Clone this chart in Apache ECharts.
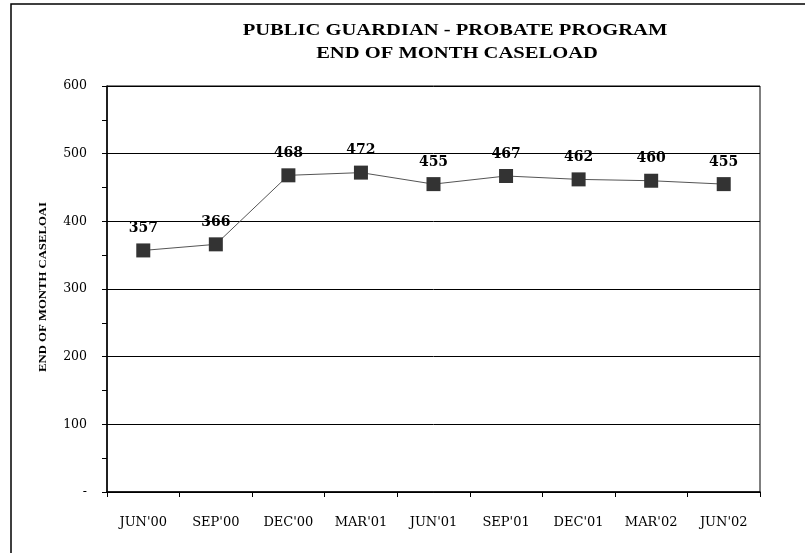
<!DOCTYPE html>
<html>
<head>
<meta charset="utf-8">
<script src="https://cdn.jsdelivr.net/npm/echarts@6/dist/echarts.min.js"></script>
<style>
  html, body { margin: 0; padding: 0; background: #fff; }
  #chart { width: 805px; height: 553px; }
</style>
</head>
<body>
<div id="chart"></div>
<script>
// Quarter-end labels and caseload counts
const quarters = ["JUN'00", "SEP'00", "DEC'00", "MAR'01", "JUN'01", "SEP'01", "DEC'01", "MAR'02", "JUN'02"];
const caseload = [357, 366, 468, 472, 455, 467, 462, 460, 455];
const titleLines = ['PUBLIC GUARDIAN - PROBATE PROGRAM', 'END OF MONTH CASELOAD'];
const yAxisTitle = 'END OF MONTH CASELOAI';

const serif = '"Liberation Serif", "Times New Roman", serif';
const wideSerif = '"DejaVu Serif", serif';

// Wide, spaced-out heading text: Times-style glyphs stretched horizontally
function headingText(str, x, y, size, rotation) {
  return {
    type: 'text',
    x: x, y: y,
    rotation: rotation || 0,
    scaleX: 1.21,
    silent: true,
    style: {
      text: str, x: 0, y: 0,
      align: 'center', verticalAlign: 'middle',
      font: 'bold ' + size + 'px ' + serif,
      fill: '#000'
    }
  };
}

const chart = echarts.init(document.getElementById('chart'));
chart.setOption({
  backgroundColor: '#fff',
  animation: false,
  graphic: [
    {
      type: 'rect',
      shape: { x: 11, y: 4, width: 820, height: 580 },
      style: { fill: 'none', stroke: '#000', lineWidth: 1.5 },
      silent: true
    },
    headingText(titleLines[0], 455, 31, 17),
    headingText(titleLines[1], 457, 54, 17),
    headingText(yAxisTitle, 43, 287, 10.5, Math.PI / 2)
  ],
  grid: { left: 107, right: 45, top: 86, bottom: 61, show: true, borderColor: '#000', borderWidth: 1 },
  xAxis: {
    type: 'category',
    data: quarters,
    boundaryGap: true,
    axisLine: { lineStyle: { color: '#000', width: 1.5 } },
    axisTick: { show: true, length: 5, inside: false, lineStyle: { color: '#000' } },
    axisLabel: { margin: 24, color: '#000', fontFamily: wideSerif, fontSize: 13 }
  },
  yAxis: {
    type: 'value',
    min: 0, max: 600, interval: 100,
    axisLine: { show: true, lineStyle: { color: '#000', width: 1.5 } },
    axisTick: { show: true, length: 5, inside: false, lineStyle: { color: '#000' } },
    minorTick: { show: true, splitNumber: 2, length: 5, lineStyle: { color: '#000' } },
    splitLine: { show: true, lineStyle: { color: '#000', width: 1 } },
    axisLabel: {
      margin: 20, color: '#000', fontFamily: wideSerif, fontSize: 12.5,
      formatter: v => (v === 0 ? '-' : String(v))
    }
  },
  series: [{
    type: 'line',
    data: caseload,
    symbol: 'rect',
    symbolSize: 14,
    itemStyle: { color: '#333' },
    lineStyle: { color: '#555', width: 1 },
    label: {
      show: true, position: 'top', distance: 8,
      fontFamily: wideSerif, fontWeight: 'bold', fontSize: 14, color: '#000'
    }
  }]
});
</script>
</body>
</html>
